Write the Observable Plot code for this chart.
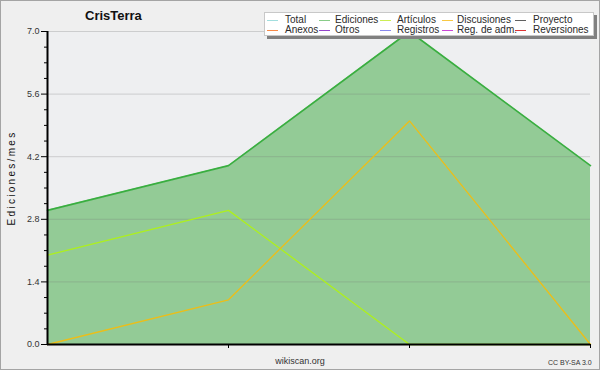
<!DOCTYPE html>
<html>
<head>
<meta charset="utf-8">
<script src="https://cdn.jsdelivr.net/npm/d3@7"></script>
<script src="https://cdn.jsdelivr.net/npm/@observablehq/plot@0.6"></script>
<style>
  html, body { margin: 0; padding: 0; background: #efefef; }
  #wrap { position: relative; width: 600px; height: 370px; overflow: hidden; background: #efefef; font-family: "Liberation Sans", Arial, sans-serif; }
  #wrap svg { position: absolute; left: 0; top: 0; }
  .abs { position: absolute; white-space: nowrap; }
  #title { left: 85px; top: 8px; font-size: 13px; font-weight: bold; color: #111; }
  #ylab { left: 11px; top: 178px; font-size: 10px; letter-spacing: 2.3px; color: #111; transform: translate(-50%, -50%) rotate(-90deg); }
  #site { left: 300px; top: 356px; font-size: 9px; color: #333; transform: translateX(-50%); }
  #cc { left: 548px; top: 359px; font-size: 7px; color: #333; }
  #legend { left: 264px; top: 12px; width: 328px; height: 22px; background: #fff; border: 1px solid #c8c8c8; box-shadow: 3px 3px 0 #808080; }
  .li { position: absolute; font-size: 10px; line-height: 10px; color: #2a2a2a; }
  .sw { position: absolute; height: 1px; width: 11px; }
  #border { left: 0; top: 0; width: 598px; height: 368px; border: 1px solid #a4a4a4; pointer-events: none; }
</style>
</head>
<body>
<div id="wrap">
  <div id="chart"></div>
  <div class="abs" id="title">CrisTerra</div>
  <div class="abs" id="ylab">Ediciones/mes</div>
  <div class="abs" id="site">wikiscan.org</div>
  <div class="abs" id="cc">CC BY-SA 3.0</div>
  <div class="abs" id="legend"></div>
  <div class="abs" id="border"></div>
</div>
<script>
// ---- data ----
const periods = [0, 1, 2, 3];
const totalVals = [3, 4, 7, 4];
const edicionesVals = [3, 4, 7, 4];
const articulosVals = [2, 3, 0, 0];
const discusionesVals = [0, 1, 5, 0];
const yMajorTicks = [0, 1.4, 2.8, 4.2, 5.6, 7.0];
const yMinorTicks = [0.35, 0.7, 1.05, 1.75, 2.1, 2.45, 3.15, 3.5, 3.85, 4.55, 4.9, 5.25, 5.95, 6.3, 6.65];
const xTicks = [1, 2, 3];
const legendNames = ["Total", "Ediciones", "Artículos", "Discusiones", "Proyecto",
                     "Anexos", "Otros", "Registros", "Reg. de adm.", "Reversiones"];
const legendColors = ["#a2dede", "#88cc88", "#ccee55", "#f8c844", "#606060",
                      "#f88a48", "#9444cc", "#8888ee", "#cc48d8", "#dd3434"];

const rows = periods.map((p, i) => ({
  p,
  total: totalVals[i],
  ediciones: edicionesVals[i],
  articulos: articulosVals[i],
  discusiones: discusionesVals[i]
}));

const chart = Plot.plot({
  width: 600,
  height: 370,
  marginLeft: 47,
  marginRight: 10,
  marginTop: 31,
  marginBottom: 26,
  style: { background: "transparent", fontFamily: "Liberation Sans, Arial, sans-serif", color: "#222" },
  x: { type: "linear", domain: [0, 3], axis: null },
  y: { domain: [0, 7], axis: null },
  marks: [
    Plot.frame({ fill: "#eeeff1", stroke: null }),
    Plot.areaY(rows, { x: "p", y: "ediciones", fill: "#93cb96" }),
    Plot.gridY(yMajorTicks, { stroke: "#777", strokeOpacity: 0.28, strokeWidth: 1 }),
    Plot.lineY(rows, { x: "p", y: "total", stroke: "#a6e3e3", strokeWidth: 1 }),
    Plot.lineY(rows, { x: "p", y: "ediciones", stroke: "#3aae3f", strokeWidth: 1.6 }),
    Plot.lineY(rows, { x: "p", y: "articulos", stroke: "#aef01c", strokeWidth: 1.3 }),
    Plot.lineY(rows, { x: "p", y: "discusiones", stroke: "#ecbe18", strokeWidth: 1.3 }),
    Plot.axisY(yMajorTicks, { tickSize: 6, tickPadding: 2, fontSize: 9, tickFormat: d => d.toFixed(1), label: null, stroke: "#000", color: "#333" }),
    Plot.axisY(yMinorTicks, { tickSize: 3, tickFormat: () => "", label: null, stroke: "#000" }),
    Plot.axisX(xTicks, { tickSize: 4, tickFormat: () => "", label: null, stroke: "#000" }),
    Plot.ruleX([0], { stroke: "#000", strokeWidth: 2 }),
    Plot.ruleY([0], { stroke: "#000", strokeWidth: 2 })
  ]
});
document.getElementById("chart").appendChild(chart);

// legend
const leg = document.getElementById("legend");
const colSw = [2, 54, 115, 177, 250];
const colTx = [20, 70, 132, 192, 268];
const rowY = [2, 12];
legendNames.forEach((name, i) => {
  const c = i % 5, r = Math.floor(i / 5);
  const sw = document.createElement("div");
  sw.className = "sw";
  sw.style.left = colSw[c] + "px";
  sw.style.top = (rowY[r] + 5) + "px";
  sw.style.background = legendColors[i];
  leg.appendChild(sw);
  const t = document.createElement("div");
  t.className = "li";
  t.style.left = colTx[c] + "px";
  t.style.top = rowY[r] + "px";
  t.textContent = name;
  leg.appendChild(t);
});
</script>
</body>
</html>
